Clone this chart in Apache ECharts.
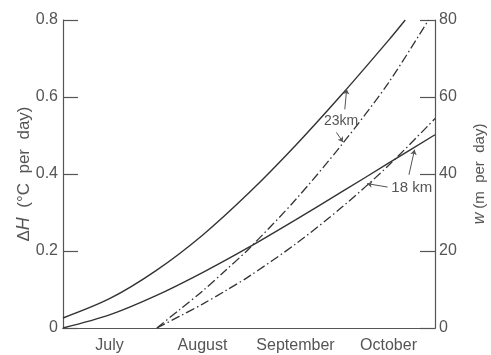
<!DOCTYPE html>
<html>
<head>
<meta charset="utf-8">
<script src="https://cdn.jsdelivr.net/npm/echarts@6/dist/echarts.min.js"></script>
<style>html,body{margin:0;padding:0;background:#fff}#c{width:491px;height:355px}</style>
</head>
<body>
<div id="c"></div>
<script>
var months = ['July', 'August', 'September', 'October'];
var leftTicks = [0, 0.2, 0.4, 0.6, 0.8];
var rightTicks = [0, 20, 40, 60, 80];

// solid curves: ΔH (°C per day), x in months from 1 July
var h23X = [0, 0.5, 1, 1.5, 2, 2.5, 3, 3.5, 3.68];
var h23Y = [0.026, 0.076, 0.149, 0.241, 0.351, 0.474, 0.607, 0.747, 0.80];
var h18X = [0, 0.5, 1, 1.5, 2, 2.5, 3, 3.5, 4];
var h18Y = [0, 0.034, 0.084, 0.144, 0.21, 0.281, 0.354, 0.428, 0.502];

// dash-dot curves: w (m per day)
var w23X = [1.01, 1.25, 1.5, 1.75, 2, 2.5, 3, 3.5, 3.93];
var w23Y = [0, 4.7, 9.6, 15.0, 20.6, 33.3, 47.7, 63.7, 80];
var w18X = [1.01, 1.25, 1.5, 1.75, 2, 2.5, 3, 3.5, 4];
var w18Y = [0, 3.0, 6.2, 9.7, 13.4, 21.8, 31.4, 42.2, 54.4];

function pairs(xs, ys) { return xs.map(function (x, i) { return [x, ys[i]]; }); }

var ink = '#333';
var txt = '#555';
var font = 'Liberation Sans, Arial, sans-serif';
var dashDot = [9, 3, 1.5, 3];

var chart = echarts.init(document.getElementById('c'));
chart.setOption({
  animation: false,
  backgroundColor: '#fff',
  grid: { left: 63, right: 56, top: 20, bottom: 27, containLabel: false, outerBoundsMode: 'none' },
  xAxis: [
    {
      type: 'category', data: months, position: 'bottom', boundaryGap: true,
      axisLine: { lineStyle: { color: txt, width: 1.2 } },
      axisTick: { inside: true, length: 15, lineStyle: { color: txt, width: 1.2 } },
      axisLabel: { interval: 0, hideOverlap: false, color: txt, fontSize: 16, fontFamily: font, margin: 10 }
    },
    {
      type: 'category', data: months, position: 'top', boundaryGap: true,
      axisLine: { lineStyle: { color: txt, width: 1.2 } },
      axisTick: { inside: true, length: 6, lineStyle: { color: txt, width: 1.2 } },
      axisLabel: { show: false }
    },
    { type: 'value', min: 0, max: 4, show: false }
  ],
  yAxis: [
    {
      type: 'value', min: 0, max: 0.8, interval: 0.2, position: 'left',
      axisLine: { show: true, lineStyle: { color: txt, width: 1.2 } },
      axisTick: { show: true, inside: true, length: 15, lineStyle: { color: txt, width: 1.2 } },
      axisLabel: { color: txt, fontSize: 16, fontFamily: font, margin: 5 },
      splitLine: { show: false },
      name: 'Δ{i|H}  (°C  per  day)', nameLocation: 'middle', nameRotate: 90, nameGap: 30,
      nameMoveOverlap: false,
      nameTextStyle: { color: txt, fontSize: 17, fontFamily: font,
        rich: { i: { fontStyle: 'italic', fontSize: 18, color: txt, fontFamily: font } } }
    },
    {
      type: 'value', min: 0, max: 80, interval: 20, position: 'right',
      axisLine: { show: true, lineStyle: { color: txt, width: 1.2 } },
      axisTick: { show: true, inside: true, length: 15, lineStyle: { color: txt, width: 1.2 } },
      axisLabel: { color: txt, fontSize: 16, fontFamily: font, margin: 4 },
      splitLine: { show: false },
      name: '{i|w} (m  per  day)', nameLocation: 'middle', nameRotate: 90, nameGap: 37,
      nameMoveOverlap: false,
      nameTextStyle: { color: txt, fontSize: 15, fontFamily: font,
        rich: { i: { fontStyle: 'italic', fontSize: 16, color: txt, fontFamily: font } } }
    }
  ],
  series: [
    {
      type: 'line', xAxisIndex: 2, yAxisIndex: 0, data: pairs(h23X, h23Y),
      smooth: 0.3, symbol: 'none', lineStyle: { color: ink, width: 1.4 }
    },
    {
      type: 'line', xAxisIndex: 2, yAxisIndex: 0, data: pairs(h18X, h18Y),
      smooth: 0.3, symbol: 'none', lineStyle: { color: ink, width: 1.4 }
    },
    {
      type: 'line', xAxisIndex: 2, yAxisIndex: 1, data: pairs(w23X, w23Y),
      smooth: 0.3, symbol: 'none', lineStyle: { color: ink, width: 1.3, type: dashDot },
      markPoint: {
        symbol: 'circle', symbolSize: 0, silent: true,
        label: { show: true, position: 'inside', color: txt, fontSize: 14, fontFamily: font },
        data: [{ coord: [2.99, 53.8], value: '23km' }]
      },
      markLine: {
        silent: true, symbol: ['none', 'arrow'], symbolSize: 5,
        lineStyle: { color: txt, width: 1, type: 'solid' }, label: { show: false },
        data: [
          [{ coord: [3.03, 56.8] }, { coord: [3.05, 62.0] }],
          [{ coord: [2.94, 50.8] }, { coord: [3.01, 48.3] }]
        ]
      }
    },
    {
      type: 'line', xAxisIndex: 2, yAxisIndex: 1, data: pairs(w18X, w18Y),
      smooth: 0.3, symbol: 'none', lineStyle: { color: ink, width: 1.3, type: dashDot },
      markPoint: {
        symbol: 'circle', symbolSize: 0, silent: true,
        label: { show: true, position: 'inside', color: txt, fontSize: 15, fontFamily: font },
        data: [{ coord: [3.75, 36.4], value: '18 km' }]
      },
      markLine: {
        silent: true, symbol: ['none', 'arrow'], symbolSize: 5,
        lineStyle: { color: txt, width: 1, type: 'solid' }, label: { show: false },
        data: [
          [{ coord: [3.49, 36.6] }, { coord: [3.27, 37.5] }],
          [{ coord: [3.72, 39.8] }, { coord: [3.78, 46.3] }]
        ]
      }
    }
  ]
});
</script>
</body>
</html>
